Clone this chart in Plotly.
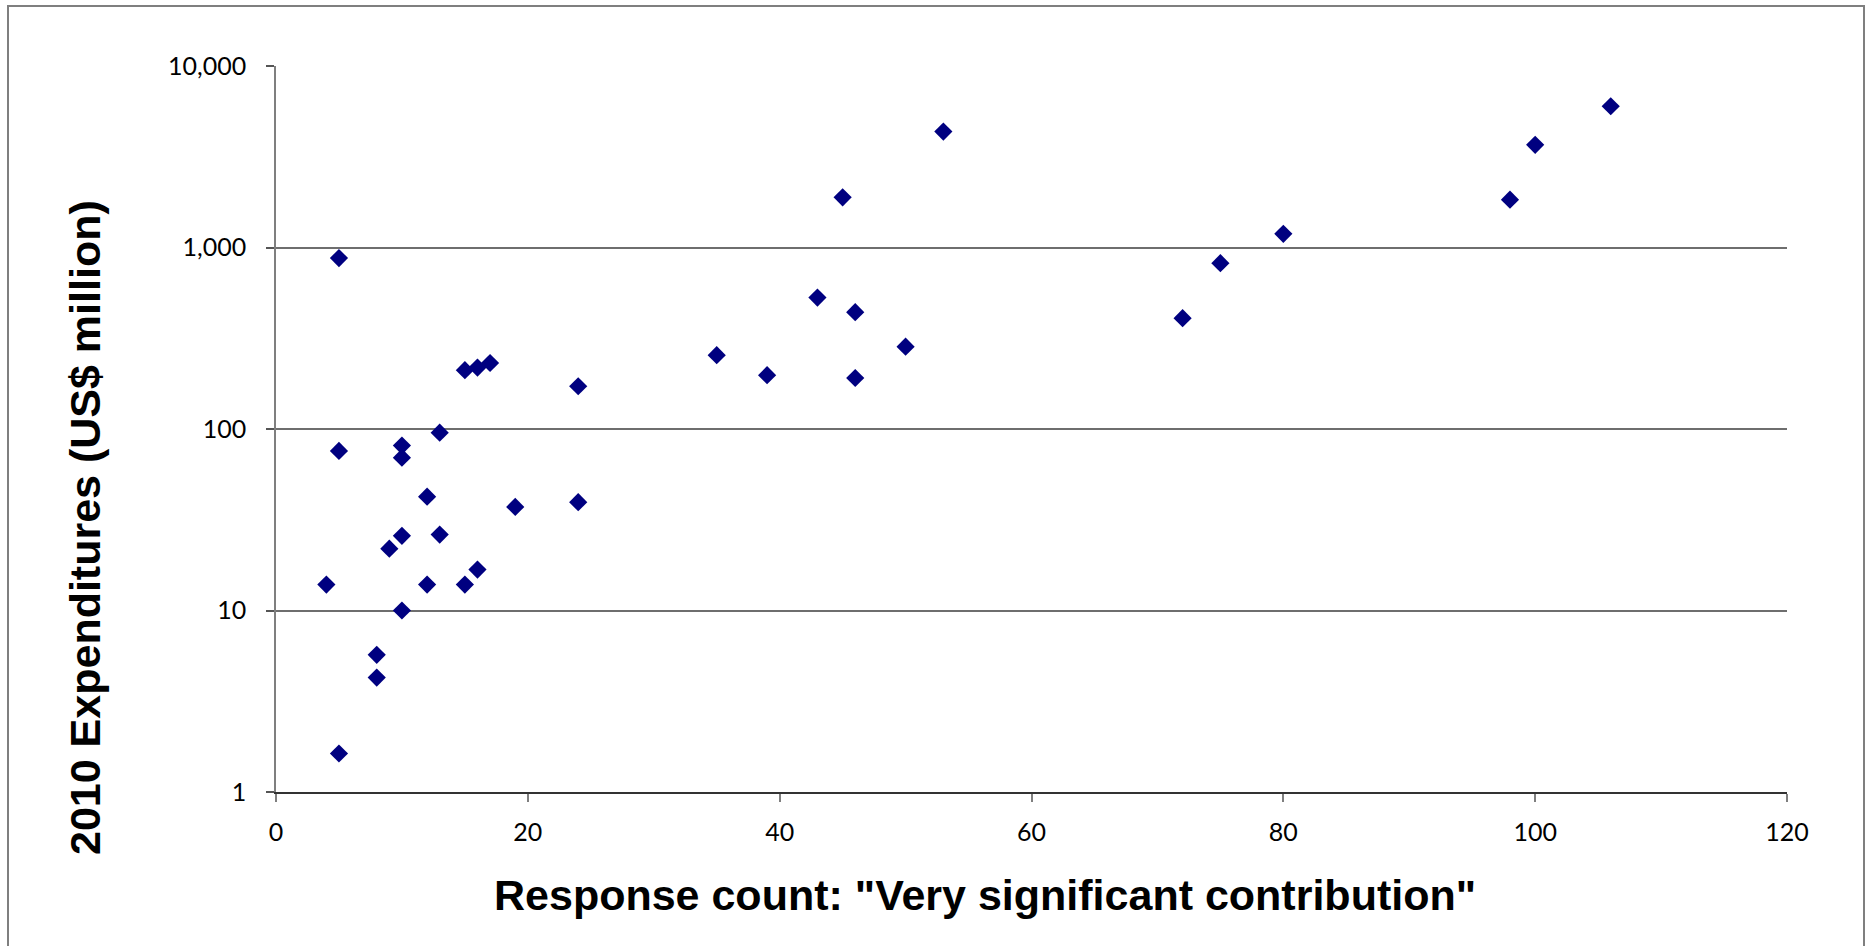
import plotly.graph_objects as go

# Response counts ("Very significant contribution") and 2010 expenditures (US$ million)
response_count = [4, 5, 5, 5, 8, 8, 9, 10, 10, 10, 10, 12, 12, 13, 13, 15, 15, 16, 16,
                  17, 19, 24, 24, 35, 39, 43, 45, 46, 46, 50, 53, 72, 75, 80, 98, 100, 106]
expenditures = [13.9, 875, 75.7, 1.63, 5.7, 4.27, 21.9, 81, 69.5, 25.8, 10.0, 42.4, 13.9,
                95.5, 26.2, 211, 13.9, 218, 16.8, 231, 37.2, 172, 39.5, 255, 198, 530,
                1890, 440, 191, 284, 4350, 408, 820, 1190, 1835, 3680, 6000]

y_tickvals = [1, 10, 100, 1000, 10000]
y_ticktext = ["1", "10", "100", "1,000", "10,000"]
x_tickvals = [0, 20, 40, 60, 80, 100, 120]

W, H = 1865, 946
M_L, M_R, M_T, M_B = 276, 78, 66, 154
PW, PH = W - M_L - M_R, H - M_T - M_B


def px_x(p):
    return (p - M_L) / PW


def px_y(p):
    return 1 - (p - M_T) / PH


fig = go.Figure(
    go.Scatter(
        x=response_count,
        y=expenditures,
        mode="markers",
        marker=dict(symbol="diamond", size=14, color="#000080",
                    line=dict(width=0)),
        cliponaxis=False,
        hoverinfo="x+y",
    )
)

tick_font = dict(family="Lato, 'Open Sans', sans-serif", size=25, color="#000000")

fig.update_xaxes(
    range=[0, 120],
    tickvals=x_tickvals,
    ticks="outside",
    ticklen=8,
    tickwidth=1.5,
    tickcolor="#7f7f7f",
    showline=True,
    linecolor="#333333",
    linewidth=1.5,
    showgrid=False,
    zeroline=False,
    tickfont=tick_font,
    ticklabelstandoff=9,
)

fig.update_yaxes(
    type="log",
    range=[0, 4],
    tickvals=y_tickvals,
    ticktext=y_ticktext,
    ticks="outside",
    ticklen=8,
    tickwidth=1.5,
    tickcolor="#555555",
    showline=True,
    linecolor="#7f7f7f",
    linewidth=1.5,
    showgrid=True,
    gridcolor="#6e6e6e",
    gridwidth=1.5,
    zeroline=False,
    tickfont=tick_font,
    ticklabelstandoff=15,
)

title_font = dict(family="Liberation Sans, Arial, sans-serif", size=43, color="#000000")

fig.add_annotation(
    text="<b>Response count: \"Very significant contribution\"</b>",
    xref="paper", yref="paper",
    x=px_x(985), y=px_y(895),
    xanchor="center", yanchor="middle",
    showarrow=False, font=title_font,
)

fig.add_annotation(
    text="<b>2010 Expenditures (US$ million)</b>",
    xref="paper", yref="paper",
    x=px_x(85), y=px_y(527),
    xanchor="center", yanchor="middle",
    textangle=-90,
    showarrow=False, font=title_font,
)

# Outer chart border
fig.add_shape(
    type="rect",
    xref="paper", yref="paper",
    x0=px_x(8), x1=px_x(1864), y0=px_y(1000), y1=px_y(6),
    line=dict(color="#7f7f7f", width=2),
    fillcolor="rgba(0,0,0,0)",
    layer="below",
)

fig.update_layout(
    width=W, height=H,
    margin=dict(l=M_L, r=M_R, t=M_T, b=M_B),
    paper_bgcolor="#ffffff",
    plot_bgcolor="#ffffff",
    showlegend=False,
)

fig.write_html("out.html")
